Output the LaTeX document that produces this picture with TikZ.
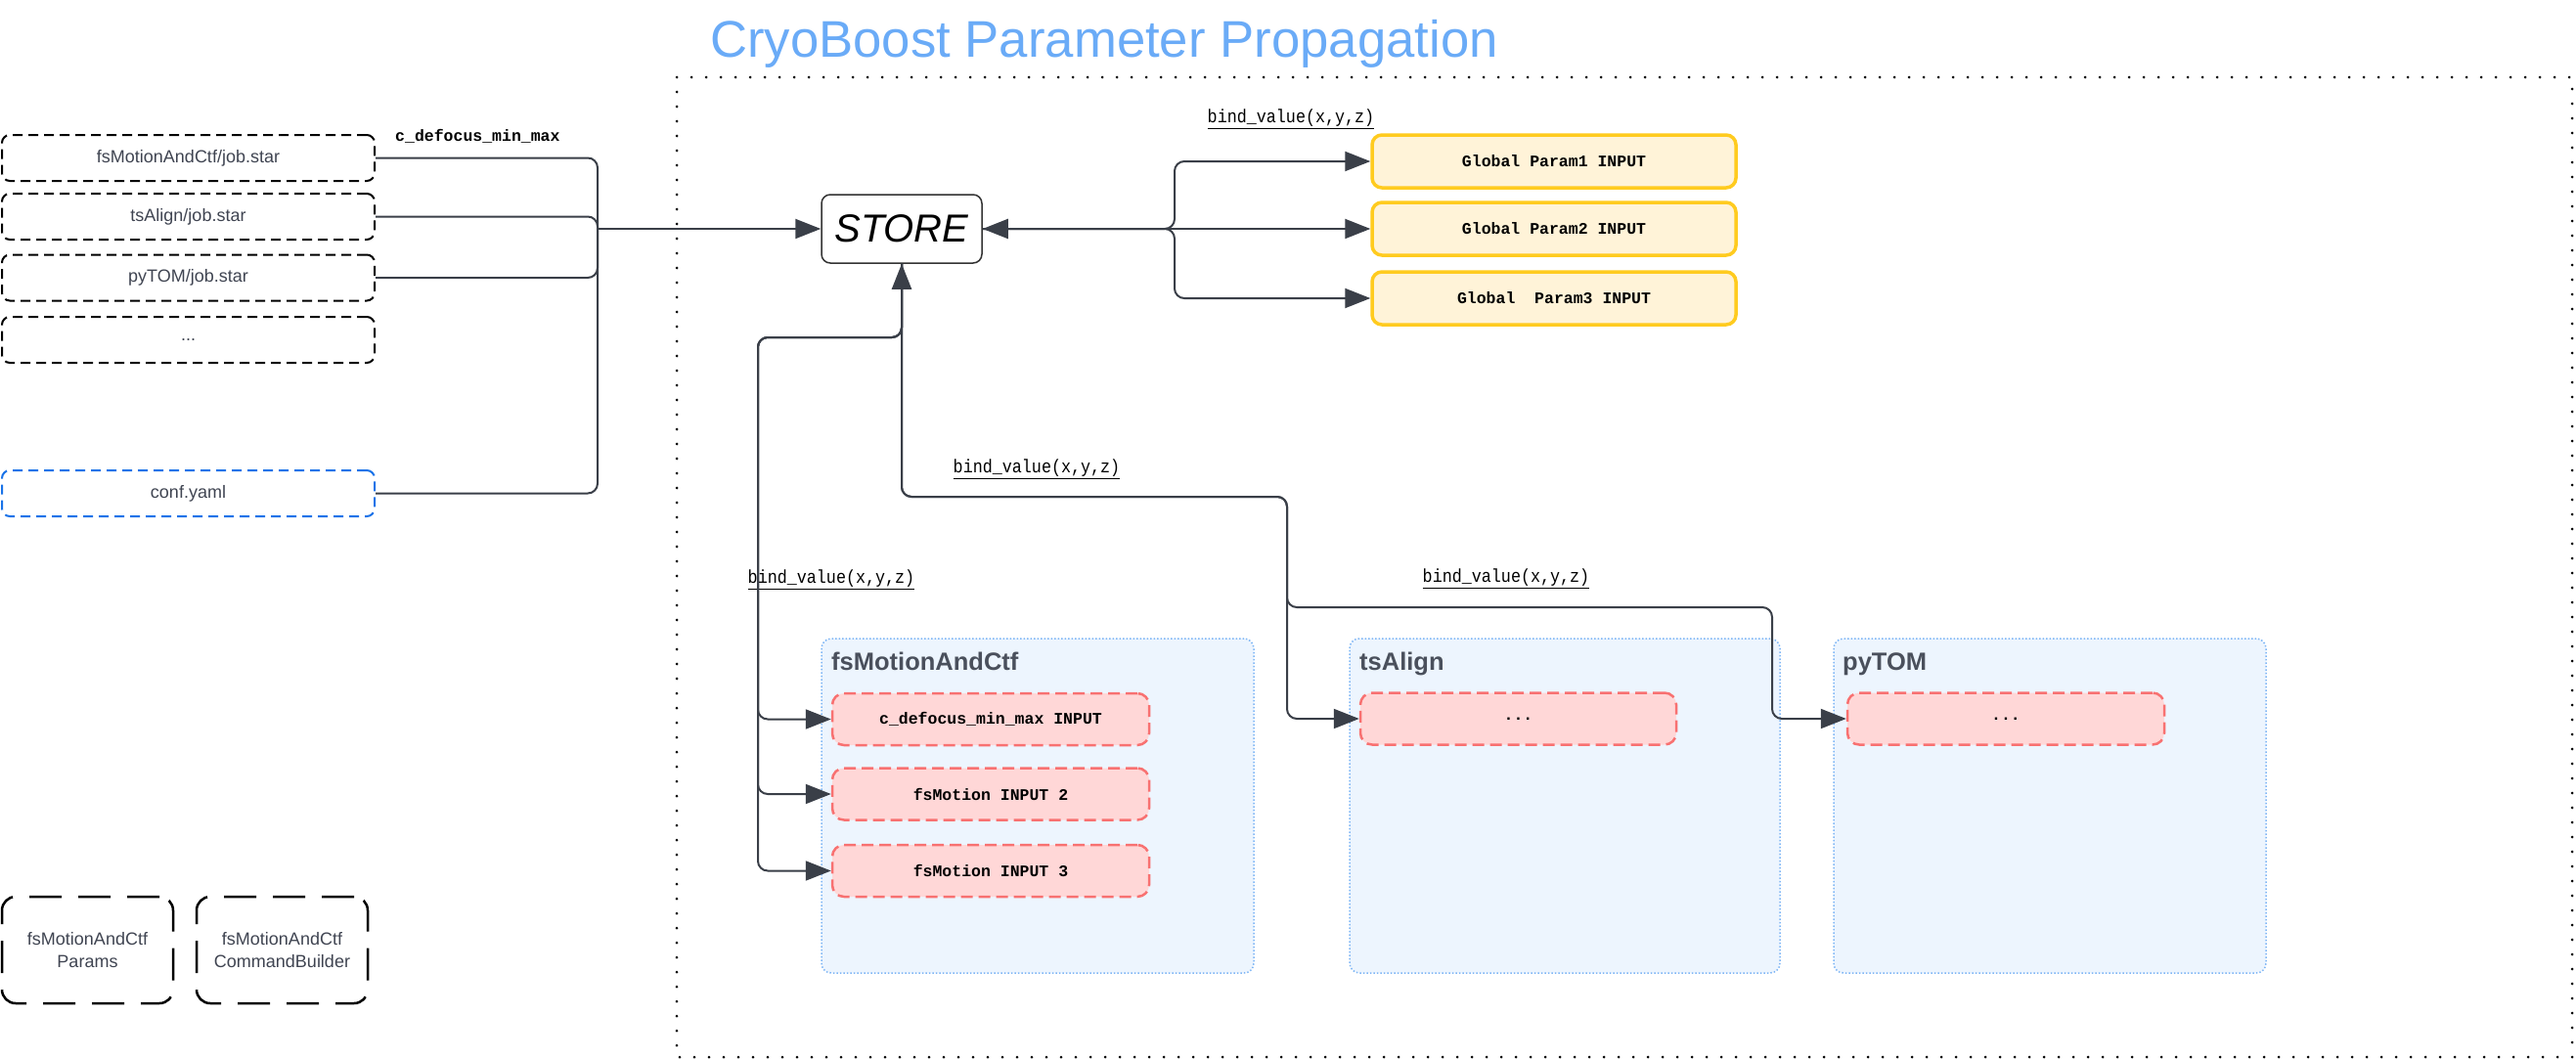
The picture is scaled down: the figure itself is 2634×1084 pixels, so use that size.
\documentclass[tikz,border=0pt]{standalone}
\usepackage{graphicx}
\usepackage{fontspec}
\setmainfont{Liberation Sans}
\newfontfamily\monof{Liberation Mono}
\usetikzlibrary{arrows.meta}
\definecolor{conncol}{HTML}{3A3F48}
\definecolor{txtgray}{HTML}{3F4451}
\definecolor{titlegray}{HTML}{4A505C}
\definecolor{titleblue}{HTML}{6AABF7}
\definecolor{confblue}{HTML}{1A73E8}
\definecolor{yfill}{HTML}{FFF3D8}
\definecolor{ybord}{HTML}{FFCB1F}
\definecolor{rfill}{HTML}{FFD7D7}
\definecolor{rbord}{HTML}{F87171}
\definecolor{cfill}{HTML}{EDF5FE}
\definecolor{cbord}{HTML}{7DB5F5}
\definecolor{storebord}{HTML}{333333}
\newcommand{\bindtxt}{\scalebox{0.88}[1]{\underline{bind\_value(x,y,z)}}}
\begin{document}
\begin{tikzpicture}[x=1pt,y=-1pt,
  jobbox/.style={draw=black, line width=2pt, dash pattern=on 10pt off 6pt, rounded corners=8pt,
    minimum width=381pt, minimum height=47pt, inner sep=0pt, text=txtgray,
    font=\fontsize{18}{22}\selectfont},
  confbox/.style={jobbox, draw=confblue},
  classbox/.style={draw=black, line width=2.5pt, dash pattern=on 33pt off 17pt, rounded corners=14pt,
    minimum width=175pt, minimum height=109pt, inner sep=0pt, align=center, text=txtgray,
    font=\fontsize{18}{23}\selectfont},
  storebox/.style={draw=storebord, line width=1.5pt, fill=white, rounded corners=9pt,
    minimum width=164pt, minimum height=70pt, inner sep=0pt,
    font=\itshape\fontsize{40}{48}\selectfont},
  gbox/.style={draw=ybord, fill=yfill, line width=3.5pt, rounded corners=10pt,
    minimum width=372pt, minimum height=54pt, inner sep=0pt,
    font=\monof\bfseries\fontsize{16.5}{20}\selectfont},
  rbox/.style={draw=rbord, fill=rfill, line width=2.5pt, dash pattern=on 12pt off 6pt,
    rounded corners=12pt, minimum width=324pt, minimum height=53pt, inner sep=0pt,
    font=\monof\bfseries\fontsize{16.5}{20}\selectfont},
  cont/.style={draw=cbord, fill=cfill, line width=1.5pt, dash pattern=on 1.5pt off 2pt,
    rounded corners=10pt, inner sep=0pt, minimum height=342pt},
  ctitle/.style={anchor=base west, inner sep=0pt, text=titlegray,
    font=\bfseries\fontsize{25.5}{30}\selectfont},
  conn/.style={draw=conncol, line width=2pt, rounded corners=10pt},
  arr/.style={-{Triangle[length=26pt,width=20pt]}},
  bindlbl/.style={inner sep=0pt, font=\monof\fontsize{19}{23}\selectfont}
]
\useasboundingbox (0,0) rectangle (2634,1084);

% title and frame
\node[anchor=base west, inner sep=0pt, text=titleblue, font=\fontsize{52.7}{60}\selectfont]
  (title) at (726,58) {CryoBoost Parameter Propagation};
\draw[black, line width=3pt, line cap=round, dash pattern=on 0pt off 15pt]
  (692,79) rectangle (2630,1081);

% containers
\node[cont, minimum width=442pt] (cfs) at (1061,824) {};
\node[cont, minimum width=440pt] (cts) at (1600,824) {};
\node[cont, minimum width=442pt] (cpy) at (2096,824) {};
\node[ctitle] (tfs) at (850,685) {fsMotionAndCtf};
\node[ctitle] (tts) at (1390,685) {tsAlign};
\node[ctitle] (tpy) at (1884,685) {pyTOM};

% left inputs
\node[jobbox] (j1) at (192.5,161.5) {fsMotionAndCtf/job.star};
\node[jobbox] (j2) at (192.5,221.5) {tsAlign/job.star};
\node[jobbox] (j3) at (192.5,284) {pyTOM/job.star};
\node[jobbox] (j4) at (192.5,347.5) {...};
\node[confbox] (cf) at (192.5,504.5) {conf.yaml};
\node[anchor=west, inner sep=0pt, font=\monof\bfseries\fontsize{16.5}{20}\selectfont]
  (lblc) at (404,139) {c\_defocus\_min\_max};

% class boxes
\node[classbox] (cb1) at (89.5,971.5) {fsMotionAndCtf\\Params};
\node[classbox] (cb2) at (288.5,971.5) {fsMotionAndCtf\\CommandBuilder};

% store
\node[storebox] (store) at (922,234) {STORE};

% global params
\node[gbox] (g1) at (1589,165) {Global Param1 INPUT};
\node[gbox] (g2) at (1589,234) {Global Param2 INPUT};
\node[gbox] (g3) at (1589,305) {Global\ \ Param3 INPUT};

% job inputs
\node[rbox] (f1) at (1013,735.5) {c\_defocus\_min\_max INPUT};
\node[rbox] (f2) at (1013,812) {fsMotion INPUT 2};
\node[rbox] (f3) at (1013,890.5) {fsMotion INPUT 3};
\node[rbox, minimum width=323pt] (t1) at (1552.5,735) {...};
\node[rbox] (p1) at (2051,735) {...};

% labels
\node[bindlbl] (lbltop) at (1320,122) {\bindtxt};
\node[bindlbl] (lblmid) at (1060,480) {\bindtxt};
\node[bindlbl] (lblleft) at (850,593) {\bindtxt};
\node[bindlbl] (lblright) at (1540,592) {\bindtxt};

% bend coordinates
\coordinate (bus) at (611,234);
\coordinate (gb) at (1201,234);
\coordinate (sj) at (922,345);
\coordinate (bL) at (775,345);
\coordinate (bM) at (1316,508);
\coordinate (bR) at (1812,621);

% inputs into store
\draw[conn] (j1.east) -| (bus);
\draw[conn] (j2.east) -| (bus);
\draw[conn] (j3.east) -| (bus);
\draw[conn] (cf.east) -| (bus);
\draw[conn, arr] (bus) -- (store.west);

% store <-> globals
\draw[conn, arr] (gb) -- (store.east);
\draw[conn, arr] (store.east) -- (gb) |- (g1.west);
\draw[conn, arr] (store.east) -- (g2.west);
\draw[conn, arr] (store.east) -- (gb) |- (g3.west);

% store <-> job inputs
\draw[conn, arr] (sj) -- (store.south);
\draw[conn, arr] (store.south) |- (bL) |- (f1.west);
\draw[conn, arr] (store.south) |- (bL) |- (f2.west);
\draw[conn, arr] (store.south) |- (bL) |- (f3.west);
\draw[conn, arr] (store.south) |- (bM) |- (t1.west);
\draw[conn, arr] (store.south) |- (bM) |- (bR) |- (p1.west);
\end{tikzpicture}
\end{document}
